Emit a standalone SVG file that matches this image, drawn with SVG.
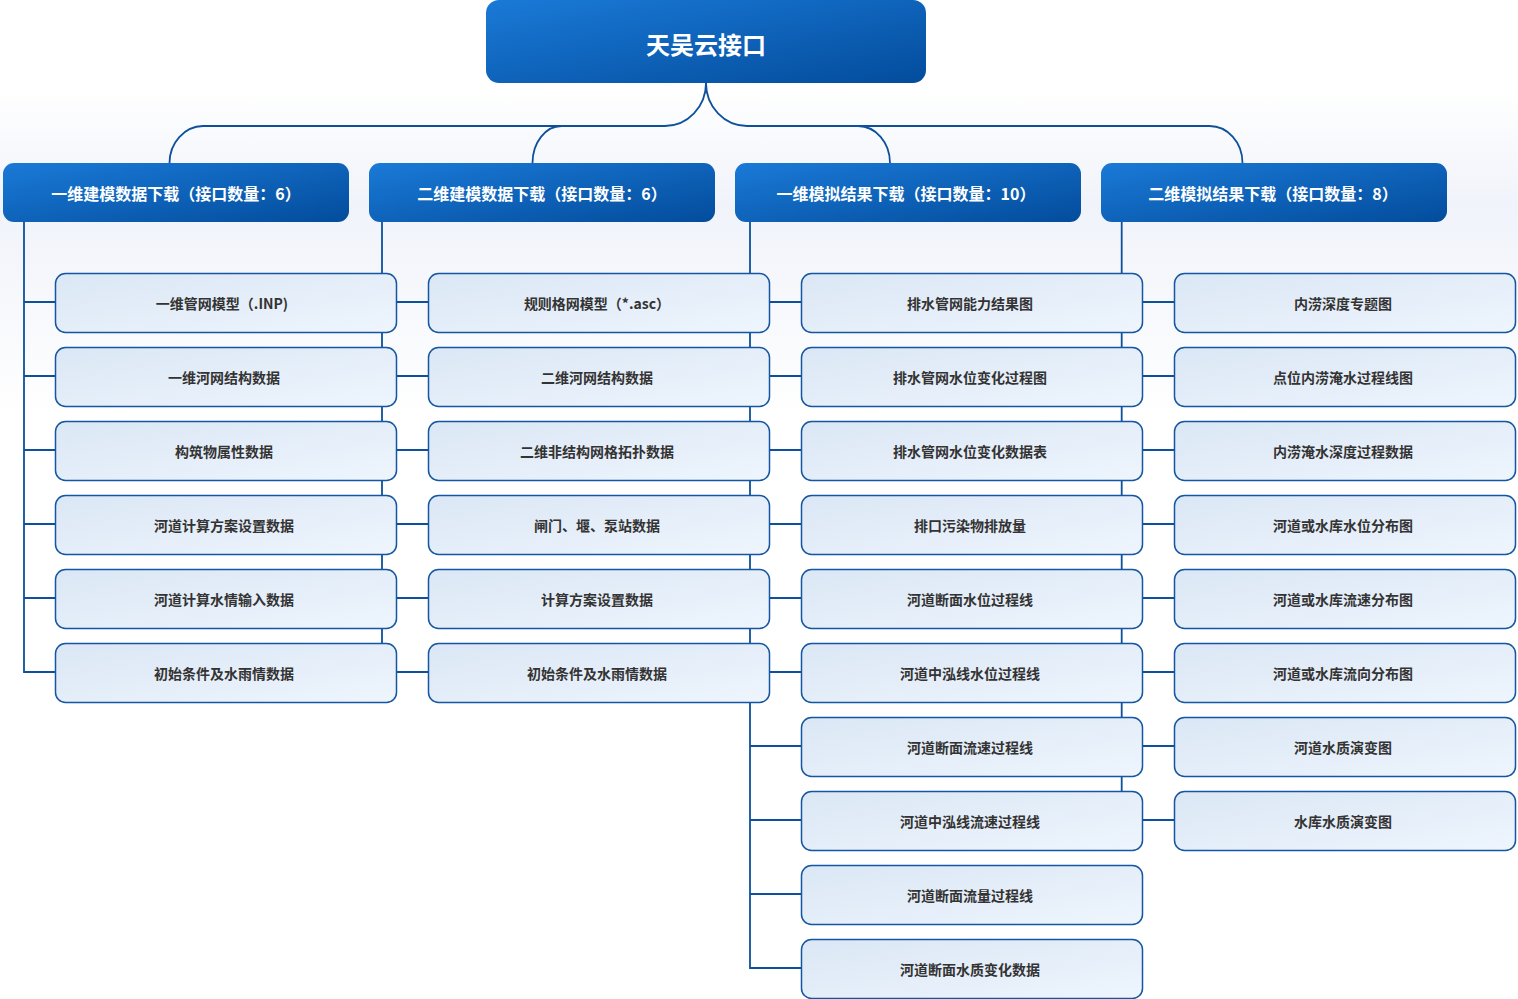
<svg xmlns="http://www.w3.org/2000/svg" width="1518" height="999" viewBox="0 0 1518 999">
<defs>
<linearGradient id="gHead" x1="0" y1="0" x2="1" y2="1">
<stop offset="0" stop-color="#1a7ad7"/>
<stop offset="1" stop-color="#034c9c"/>
</linearGradient>
<linearGradient id="gLeaf" x1="0" y1="0" x2="1" y2="1">
<stop offset="0" stop-color="#dbe7f5"/>
<stop offset="1" stop-color="#eef5fd"/>
</linearGradient>
<linearGradient id="gBg" x1="0" y1="0" x2="0" y2="1">
<stop offset="0" stop-color="#ffffff"/>
<stop offset="0.35" stop-color="#f0f3fa"/>
<stop offset="1" stop-color="#ffffff"/>
</linearGradient>
<style>
.head{fill:url(#gHead);}
.leaf{fill:url(#gLeaf);stroke:#1456a2;stroke-width:1.5;}
.con{fill:none;stroke:#0e509c;stroke-width:1.8;}
.t{font-family:"Noto Sans CJK SC","Noto Sans",sans-serif;font-weight:bold;text-anchor:middle;dominant-baseline:central;}
.tr{font-size:24px;fill:#ffffff;}
.tc{font-size:16px;fill:#ffffff;}
.tl{font-size:14px;fill:#333333;}
</style>
</defs>
<rect x="0" y="0" width="1518" height="999" fill="#ffffff"/>
<rect x="0" y="90" width="1518" height="330" fill="url(#gBg)"/>

<g id="connectors" class="con">
<path d="M706,83 A41,43 0 0 1 665,126 H203 A34,37 0 0 0 169.5,163"/>
<path d="M532.5,163 A29,37 0 0 1 561.5,126"/>
<path d="M706,83 A41,43 0 0 0 747,126 H1209 A33,37 0 0 1 1242.5,163"/>
<path d="M890,163 A32,37 0 0 0 858,126"/>
<path d="M24,222 V672 H55.5"/>
<path d="M24,302H55.5 M24,376H55.5 M24,450H55.5 M24,524H55.5 M24,598H55.5"/>
<path d="M382,222 V672 H428.5"/>
<path d="M382,302H428.5 M382,376H428.5 M382,450H428.5 M382,524H428.5 M382,598H428.5"/>
<path d="M750,222 V968 H801.5"/>
<path d="M750,302H801.5 M750,376H801.5 M750,450H801.5 M750,524H801.5 M750,598H801.5 M750,672H801.5 M750,746H801.5 M750,820H801.5 M750,894H801.5"/>
<path d="M1121.7,222 V820 H1174.5"/>
<path d="M1121.7,302H1174.5 M1121.7,376H1174.5 M1121.7,450H1174.5 M1121.7,524H1174.5 M1121.7,598H1174.5 M1121.7,672H1174.5 M1121.7,746H1174.5"/>
</g>

<g id="root"><rect class="head" x="486" y="0" width="440" height="83" rx="13"/><text class="t tr" x="706" y="43">天吴云接口</text></g>

<g id="cat1"><rect class="head" x="3" y="163" width="346" height="59" rx="11"/><text class="t tc" x="176" y="192.5">一维建模数据下载（接口数量：6）</text></g>
<g id="cat2"><rect class="head" x="369" y="163" width="346" height="59" rx="11"/><text class="t tc" x="542" y="192.5">二维建模数据下载（接口数量：6）</text></g>
<g id="cat3"><rect class="head" x="735" y="163" width="346" height="59" rx="11"/><text class="t tc" x="906" y="192.5">一维模拟结果下载（接口数量：10）</text></g>
<g id="cat4"><rect class="head" x="1101" y="163" width="346" height="59" rx="11"/><text class="t tc" x="1273" y="192.5">二维模拟结果下载（接口数量：8）</text></g>

<g id="c1r1"><rect class="leaf" x="55.5" y="273.5" width="341" height="59" rx="10"/><text class="t tl" x="222" y="303">一维管网模型（.INP)</text></g>
<g id="c1r2"><rect class="leaf" x="55.5" y="347.5" width="341" height="59" rx="10"/><text class="t tl" x="224" y="377">一维河网结构数据</text></g>
<g id="c1r3"><rect class="leaf" x="55.5" y="421.5" width="341" height="59" rx="10"/><text class="t tl" x="224" y="451">构筑物属性数据</text></g>
<g id="c1r4"><rect class="leaf" x="55.5" y="495.5" width="341" height="59" rx="10"/><text class="t tl" x="224" y="525">河道计算方案设置数据</text></g>
<g id="c1r5"><rect class="leaf" x="55.5" y="569.5" width="341" height="59" rx="10"/><text class="t tl" x="224" y="599">河道计算水情输入数据</text></g>
<g id="c1r6"><rect class="leaf" x="55.5" y="643.5" width="341" height="59" rx="10"/><text class="t tl" x="224" y="673">初始条件及水雨情数据</text></g>

<g id="c2r1"><rect class="leaf" x="428.5" y="273.5" width="341" height="59" rx="10"/><text class="t tl" x="597" y="303">规则格网模型（*.asc）</text></g>
<g id="c2r2"><rect class="leaf" x="428.5" y="347.5" width="341" height="59" rx="10"/><text class="t tl" x="597" y="377">二维河网结构数据</text></g>
<g id="c2r3"><rect class="leaf" x="428.5" y="421.5" width="341" height="59" rx="10"/><text class="t tl" x="597" y="451">二维非结构网格拓扑数据</text></g>
<g id="c2r4"><rect class="leaf" x="428.5" y="495.5" width="341" height="59" rx="10"/><text class="t tl" x="597" y="525">闸门、堰、泵站数据</text></g>
<g id="c2r5"><rect class="leaf" x="428.5" y="569.5" width="341" height="59" rx="10"/><text class="t tl" x="597" y="599">计算方案设置数据</text></g>
<g id="c2r6"><rect class="leaf" x="428.5" y="643.5" width="341" height="59" rx="10"/><text class="t tl" x="597" y="673">初始条件及水雨情数据</text></g>

<g id="c3r1"><rect class="leaf" x="801.5" y="273.5" width="341" height="59" rx="10"/><text class="t tl" x="970" y="303">排水管网能力结果图</text></g>
<g id="c3r2"><rect class="leaf" x="801.5" y="347.5" width="341" height="59" rx="10"/><text class="t tl" x="970" y="377">排水管网水位变化过程图</text></g>
<g id="c3r3"><rect class="leaf" x="801.5" y="421.5" width="341" height="59" rx="10"/><text class="t tl" x="970" y="451">排水管网水位变化数据表</text></g>
<g id="c3r4"><rect class="leaf" x="801.5" y="495.5" width="341" height="59" rx="10"/><text class="t tl" x="970" y="525">排口污染物排放量</text></g>
<g id="c3r5"><rect class="leaf" x="801.5" y="569.5" width="341" height="59" rx="10"/><text class="t tl" x="970" y="599">河道断面水位过程线</text></g>
<g id="c3r6"><rect class="leaf" x="801.5" y="643.5" width="341" height="59" rx="10"/><text class="t tl" x="970" y="673">河道中泓线水位过程线</text></g>
<g id="c3r7"><rect class="leaf" x="801.5" y="717.5" width="341" height="59" rx="10"/><text class="t tl" x="970" y="747">河道断面流速过程线</text></g>
<g id="c3r8"><rect class="leaf" x="801.5" y="791.5" width="341" height="59" rx="10"/><text class="t tl" x="970" y="821">河道中泓线流速过程线</text></g>
<g id="c3r9"><rect class="leaf" x="801.5" y="865.5" width="341" height="59" rx="10"/><text class="t tl" x="970" y="895">河道断面流量过程线</text></g>
<g id="c3r10"><rect class="leaf" x="801.5" y="939.5" width="341" height="59" rx="10"/><text class="t tl" x="970" y="969">河道断面水质变化数据</text></g>

<g id="c4r1"><rect class="leaf" x="1174.5" y="273.5" width="341" height="59" rx="10"/><text class="t tl" x="1343" y="303">内涝深度专题图</text></g>
<g id="c4r2"><rect class="leaf" x="1174.5" y="347.5" width="341" height="59" rx="10"/><text class="t tl" x="1343" y="377">点位内涝淹水过程线图</text></g>
<g id="c4r3"><rect class="leaf" x="1174.5" y="421.5" width="341" height="59" rx="10"/><text class="t tl" x="1343" y="451">内涝淹水深度过程数据</text></g>
<g id="c4r4"><rect class="leaf" x="1174.5" y="495.5" width="341" height="59" rx="10"/><text class="t tl" x="1343" y="525">河道或水库水位分布图</text></g>
<g id="c4r5"><rect class="leaf" x="1174.5" y="569.5" width="341" height="59" rx="10"/><text class="t tl" x="1343" y="599">河道或水库流速分布图</text></g>
<g id="c4r6"><rect class="leaf" x="1174.5" y="643.5" width="341" height="59" rx="10"/><text class="t tl" x="1343" y="673">河道或水库流向分布图</text></g>
<g id="c4r7"><rect class="leaf" x="1174.5" y="717.5" width="341" height="59" rx="10"/><text class="t tl" x="1343" y="747">河道水质演变图</text></g>
<g id="c4r8"><rect class="leaf" x="1174.5" y="791.5" width="341" height="59" rx="10"/><text class="t tl" x="1343" y="821">水库水质演变图</text></g>
</svg>
